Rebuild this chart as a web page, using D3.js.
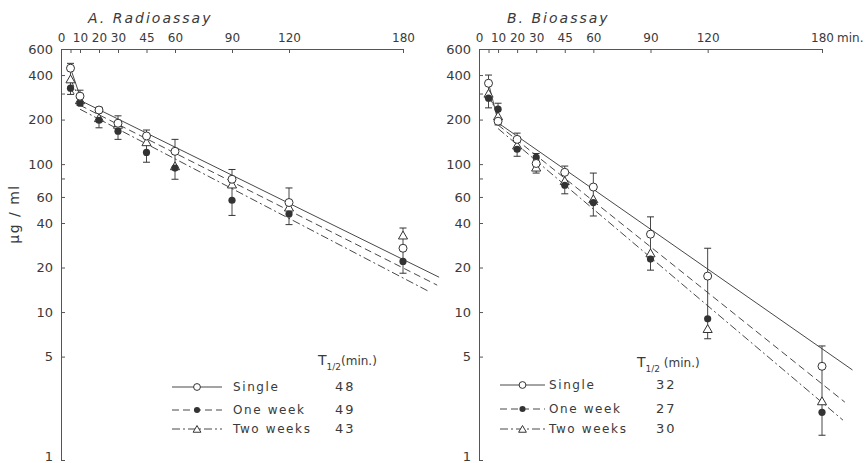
<!DOCTYPE html>
<html>
<head>
<meta charset="utf-8">
<script src="https://cdn.jsdelivr.net/npm/d3@7"></script>
<style>
  body { margin: 0; background: #fff; }
  svg text { font-family: "DejaVu Sans", sans-serif; fill: #3a3a3a; }
  .axis path, .axis line { stroke: #555; stroke-width: 1; }
  .axis text { font-size: 12px; fill: #3a3a3a; }
</style>
</head>
<body>
<script>
// Serum concentration after a single dose, one week and two weeks of dosing
// Two panels: A. Radioassay, B. Bioassay. Log y axis, time on top axis.

const times = [5, 10, 20, 30, 45, 60, 90, 120, 180];
const timeLabels = [0, 10, 20, 30, 45, 60, 90, 120, 180];
const yTicks = [600, 400, 300, 200, 100, 80, 60, 40, 20, 10, 5, 1];
const yLabels = [600, 400, 200, 100, 60, 40, 20, 10, 5, 1];
const seriesNames = ['Single', 'One week', 'Two weeks'];

// A. Radioassay (ug/ml)
const aSingle   = [445, 288, 232, 189, 155, 122, 79, 55, 27];
const aOneWeek  = [326, 258, 198, 167, 120, 94, 57, 46, 22];
const aTwoWeeks = [375, 271, 205, 185, 141, 97, 73, 51, 33];
const aErrHi    = [480, 316, 242, 212, 170, 147, 92, 69, 37];
const aErrLo    = [296, 250, 176, 147, 103, 79, 45, 39, 18.3];
// fitted lines: [t start, value, t end, value]
const aFits = [[10, 270, 199, 17.2], [10, 250, 198, 15.2], [10, 235, 194, 13.7]];
const aHalfLife = [48, 49, 43];

// B. Bioassay (ug/ml)
const bSingle   = [352, 195, 147, 101, 88, 70, 33.6, 17.5, 4.3];
const bOneWeek  = [279, 235, 126, 111, 72, 55, 22.8, 9.0, 2.1];
const bTwoWeeks = [300, 211, 134, 95, 77, 58, 25, 7.7, 2.5];
const bErrHi    = [400, 258, 162, 118, 97, 87, 44, 27, 5.9];
const bErrLo    = [240, 184, 113, 87, 63, 44.6, 19.2, 6.6, 1.47];
const bFits = [[10, 190, 196, 4.06], [10, 184, 192, 2.46], [10, 174, 191, 1.86]];
const bHalfLife = [32, 27, 30];

const dashes = [null, '7,4', '8,3,2,3'];
const ink = '#333';

const svg = d3.select('body').append('svg').attr('width', 867).attr('height', 463);

const y = d3.scaleLog().domain([1, 600]).range([460, 49]);

function marker(g, kind, cx, cy, small) {
  const k = small ? 0.85 : 1;
  if (kind === 0) {
    g.append('circle').attr('cx', cx).attr('cy', cy).attr('r', 4 * k)
      .attr('fill', '#fff').attr('stroke', ink).attr('stroke-width', 1);
  } else if (kind === 1) {
    g.append('circle').attr('cx', cx).attr('cy', cy).attr('r', 3.6 * k).attr('fill', ink);
  } else {
    g.append('path').attr('d', d3.symbol(d3.symbolTriangle, 36 * k * k)())
      .attr('transform', `translate(${cx},${cy + 1})`)
      .attr('fill', '#fff').attr('stroke', ink).attr('stroke-width', 1);
  }
}

function drawPanel(p) {
  const x = d3.scaleLinear().domain([0, 180]).range([p.left, p.right]);
  const g = svg.append('g');

  // title
  g.append('text').attr('x', p.titleX).attr('y', 23)
    .style('font-size', '14px').style('font-style', 'italic').style('letter-spacing', '2px')
    .text(p.title);

  // top time axis
  const xAxis = d3.axisTop(x).tickValues(timeLabels).tickSizeInner(-4).tickSizeOuter(0).tickPadding(7);
  const xg = g.append('g').attr('class', 'axis').attr('transform', 'translate(0,49)').call(xAxis);
  xg.selectAll('.tick').filter(d => d === 0).select('line').remove();
  g.append('g').attr('class', 'axis').attr('transform', 'translate(0,49)')
    .call(d3.axisTop(x).tickValues([5]).tickSizeInner(-4).tickSizeOuter(0).tickFormat(''))
    .select('.domain').remove();
  if (p.minLabel) {
    g.append('text').attr('x', x(180) + 15).attr('y', 42).style('font-size', '12px').text('min.');
  }

  // left log axis
  const yAxis = d3.axisLeft(y).tickValues(yTicks).tickSizeInner(-4).tickSizeOuter(0).tickPadding(8)
    .tickFormat(d => yLabels.includes(d) ? d : '');
  const yg = g.append('g').attr('class', 'axis').attr('transform', `translate(${p.left},0)`).call(yAxis);
  yg.selectAll('text').style('font-size', '13px');
  // keep the bottom "1" inside the picture
  yg.selectAll('.tick').filter(d => d === 1).select('text').attr('dy', '0.05em');

  // fitted lines
  p.fits.forEach((f, i) => {
    g.append('line')
      .attr('x1', x(f[0])).attr('y1', y(f[1]))
      .attr('x2', x(f[2])).attr('y2', y(f[3]))
      .attr('stroke', ink).attr('stroke-width', 0.9)
      .attr('stroke-dasharray', dashes[i]);
  });
  // early distribution segments (5 -> 10 min)
  p.series.forEach((s, i) => {
    g.append('line')
      .attr('x1', x(times[0])).attr('y1', y(s[0]))
      .attr('x2', x(times[1])).attr('y2', y(s[1]))
      .attr('stroke', ink).attr('stroke-width', 0.9)
      .attr('stroke-dasharray', dashes[i]);
  });

  // error bars
  times.forEach((t, j) => {
    const cx = x(t);
    g.append('line').attr('x1', cx).attr('x2', cx)
      .attr('y1', y(p.errHi[j])).attr('y2', y(p.errLo[j]))
      .attr('stroke', ink).attr('stroke-width', 0.9);
    [p.errHi[j], p.errLo[j]].forEach(v => {
      g.append('line').attr('x1', cx - 3.5).attr('x2', cx + 3.5)
        .attr('y1', y(v)).attr('y2', y(v))
        .attr('stroke', ink).attr('stroke-width', 1);
    });
  });

  // points: two weeks, one week, then single on top
  [2, 1, 0].forEach(i => {
    p.series[i].forEach((v, j) => marker(g, i, x(times[j]), y(v)));
  });

  // legend
  const L = p.legend;
  const head = g.append('text').attr('x', L.headX).attr('y', L.headY).style('font-size', '14px');
  head.append('tspan').text('T');
  head.append('tspan').attr('dy', 5).style('font-size', '9px').text('1/2');
  head.append('tspan').attr('dy', -5).style('font-size', '12px').text(L.gap + '(min.)');

  seriesNames.forEach((name, i) => {
    const ry = L.rows[i];
    g.append('line').attr('x1', L.x0).attr('x2', L.x1).attr('y1', ry).attr('y2', ry)
      .attr('stroke', ink).attr('stroke-width', 0.9).attr('stroke-dasharray', dashes[i]);
    marker(g, i, (L.x0 + L.x1) / 2, ry, true);
    g.append('text').attr('x', L.labelX).attr('y', ry + 4)
      .style('font-size', '12px').style('letter-spacing', '1.6px').text(name);
    g.append('text').attr('x', L.valueX).attr('y', ry + 4)
      .style('font-size', '13px').style('letter-spacing', '2px').text(p.half[i]);
  });
}

drawPanel({
  left: 61, right: 403, title: 'A. Radioassay', titleX: 88,
  series: [aSingle, aOneWeek, aTwoWeeks], errHi: aErrHi, errLo: aErrLo,
  fits: aFits, half: aHalfLife, minLabel: false,
  legend: { headX: 318, headY: 365, gap: '', x0: 172, x1: 222, labelX: 233, valueX: 335, rows: [387, 410, 429] }
});

drawPanel({
  left: 479, right: 822, title: 'B. Bioassay', titleX: 507,
  series: [bSingle, bOneWeek, bTwoWeeks], errHi: bErrHi, errLo: bErrLo,
  fits: bFits, half: bHalfLife, minLabel: true,
  legend: { headX: 637, headY: 367, gap: ' ', x0: 500, x1: 545, labelX: 549, valueX: 656, rows: [385, 409, 429] }
});

// y axis title
svg.append('text')
  .attr('transform', 'translate(19,214) rotate(-90)')
  .attr('text-anchor', 'middle')
  .style('font-size', '14px').style('letter-spacing', '1.5px')
  .text('μg / ml');
</script>
</body>
</html>
